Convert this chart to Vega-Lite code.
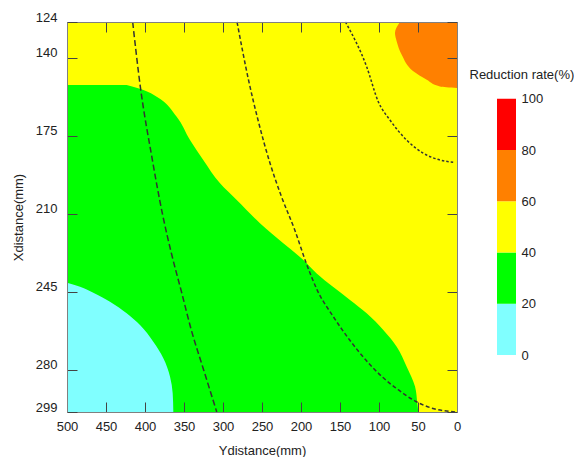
{
  "$schema": "https://vega.github.io/schema/vega-lite/v6.json",
  "padding": {"left": 12, "top": 11, "right": 0, "bottom": 0},
  "bounds": "flush",
  "spacing": 40,
  "config": {
    "font": "Liberation Sans",
    "view": {"stroke": null},
    "axis": {
      "labelFont": "Liberation Sans", "titleFont": "Liberation Sans",
      "labelFontSize": 13, "titleFontSize": 13, "titleFontWeight": "normal",
      "labelColor": "#222", "titleColor": "#222", "grid": false,
      "domain": true, "domainColor": "#808080", "domainWidth": 1,
      "tickColor": "#444", "tickWidth": 1
    }
  },
  "datasets": {
    "bg": [{"ya": 0, "yb": 500, "xa": 124, "xb": 299, "level": "40-60"}],
    "green": [
      {"xdist": 152.3, "ydist": 423.5}, {"xdist": 154.5, "ydist": 402}, {"xdist": 157.5, "ydist": 385},
      {"xdist": 166.5, "ydist": 359.4}, {"xdist": 176.9, "ydist": 342.3}, {"xdist": 185.9, "ydist": 325.3},
      {"xdist": 196.4, "ydist": 303.8}, {"xdist": 203.9, "ydist": 282.4}, {"xdist": 214.3, "ydist": 252.6},
      {"xdist": 223.3, "ydist": 222.7}, {"xdist": 230.8, "ydist": 197}, {"xdist": 236.8, "ydist": 179.9},
      {"xdist": 242.8, "ydist": 159}, {"xdist": 248.7, "ydist": 137.2}, {"xdist": 254.7, "ydist": 115.8},
      {"xdist": 262.2, "ydist": 94.5}, {"xdist": 269.7, "ydist": 77.3}, {"xdist": 278.7, "ydist": 64.5},
      {"xdist": 287.6, "ydist": 53.8}, {"xdist": 295.1, "ydist": 50.9}, {"xdist": 299, "ydist": 49.6}
    ],
    "cyan": [
      {"xdist": 241, "ydist": 500}, {"xdist": 242.8, "ydist": 483.3}, {"xdist": 245.5, "ydist": 466.3},
      {"xdist": 249.5, "ydist": 444.9}, {"xdist": 254.7, "ydist": 423.5}, {"xdist": 260, "ydist": 406.4},
      {"xdist": 267.5, "ydist": 389.4}, {"xdist": 274.9, "ydist": 376.5}, {"xdist": 283.2, "ydist": 367.9},
      {"xdist": 290.6, "ydist": 364.5}, {"xdist": 299, "ydist": 363.7}
    ],
    "orange": [
      {"xdist": 124, "ydist": 73.1}, {"xdist": 128.9, "ydist": 79.5}, {"xdist": 132.7, "ydist": 77.3},
      {"xdist": 138.7, "ydist": 70.9}, {"xdist": 146.1, "ydist": 56}, {"xdist": 149.9, "ydist": 38.8},
      {"xdist": 152.9, "ydist": 21.8}, {"xdist": 153.6, "ydist": 0}
    ],
    "curves": [
      {"curve": "c1", "xdist": 124, "ydist": 415.8}, {"curve": "c1", "xdist": 153, "ydist": 406},
      {"curve": "c1", "xdist": 184.4, "ydist": 391.3}, {"curve": "c1", "xdist": 210, "ydist": 377.7},
      {"curve": "c1", "xdist": 228, "ydist": 366}, {"curve": "c1", "xdist": 245, "ydist": 353.3},
      {"curve": "c1", "xdist": 262, "ydist": 340.8}, {"curve": "c1", "xdist": 280, "ydist": 324.9},
      {"curve": "c1", "xdist": 299, "ydist": 308},
      {"curve": "c2", "xdist": 124, "ydist": 282}, {"curve": "c2", "xdist": 150, "ydist": 267.3},
      {"curve": "c2", "xdist": 168, "ydist": 255.1}, {"curve": "c2", "xdist": 187.4, "ydist": 239.7},
      {"curve": "c2", "xdist": 202.4, "ydist": 225}, {"curve": "c2", "xdist": 217.3, "ydist": 208},
      {"curve": "c2", "xdist": 232.3, "ydist": 193.2}, {"curve": "c2", "xdist": 244.3, "ydist": 179.2},
      {"curve": "c2", "xdist": 256.2, "ydist": 158.6}, {"curve": "c2", "xdist": 266.7, "ydist": 137.6},
      {"curve": "c2", "xdist": 275.7, "ydist": 116.8}, {"curve": "c2", "xdist": 283.2, "ydist": 96},
      {"curve": "c2", "xdist": 289.1, "ydist": 75}, {"curve": "c2", "xdist": 294.4, "ydist": 52},
      {"curve": "c2", "xdist": 297.3, "ydist": 32}, {"curve": "c2", "xdist": 299, "ydist": 0.4},
      {"curve": "c3", "xdist": 124, "ydist": 143}, {"curve": "c3", "xdist": 144.1, "ydist": 115.8},
      {"curve": "c3", "xdist": 159.8, "ydist": 100.9}, {"curve": "c3", "xdist": 168, "ydist": 85.9},
      {"curve": "c3", "xdist": 177, "ydist": 64.5}, {"curve": "c3", "xdist": 182.9, "ydist": 43.2},
      {"curve": "c3", "xdist": 185.9, "ydist": 21.8}, {"curve": "c3", "xdist": 187, "ydist": 2.6}
    ],
    "legend": [
      {"lo": 0, "hi": 20, "level": "0-20"}, {"lo": 20, "hi": 40, "level": "20-40"},
      {"lo": 40, "hi": 60, "level": "40-60"}, {"lo": 60, "hi": 80, "level": "60-80"},
      {"lo": 80, "hi": 100, "level": "80-100"}
    ]
  },
  "resolve": {"scale": {"color": "shared", "x": "independent", "y": "independent"}},
  "hconcat": [
    {
      "width": 390,
      "height": 390,
      "resolve": {"axis": {"x": "independent", "y": "independent"}},
      "layer": [
        {
          "data": {"name": "bg"},
          "mark": "rect",
          "encoding": {
            "x": {"field": "ya", "type": "quantitative",
              "scale": {"domain": [0, 500], "reverse": true, "nice": false, "zero": false},
              "axis": {"orient": "bottom", "values": [0, 50, 100, 150, 200, 250, 300, 350, 400, 450, 500],
                "tickSize": -10, "labelPadding": 18, "labelFlush": false, "title": "Ydistance(mm)", "titlePadding": 11, "zindex": 2}},
            "x2": {"field": "yb"},
            "y": {"field": "xa", "type": "quantitative",
              "scale": {"domain": [124, 299], "reverse": true, "nice": false, "zero": false},
              "axis": {"orient": "left", "values": [124, 140, 175, 210, 245, 280, 299],
                "tickSize": -10, "labelPadding": 20, "labelOffset": -5, "title": "Xdistance(mm)", "titlePadding": 10, "zindex": 2}},
            "y2": {"field": "xb"},
            "color": {"field": "level", "type": "nominal", "legend": null,
              "scale": {"domain": ["0-20", "20-40", "40-60", "60-80", "80-100"],
                "range": ["#80FFFF", "#00FF00", "#FFFF00", "#FF8000", "#FF0000"]}}
          }
        },
        {
          "data": {"name": "green"},
          "mark": {"type": "area", "orient": "horizontal", "interpolate": "monotone"},
          "encoding": {
            "y": {"field": "xdist", "type": "quantitative", "axis": null},
            "x": {"field": "ydist", "type": "quantitative", "axis": null, "stack": null},
            "x2": {"datum": 500},
            "color": {"datum": "20-40", "type": "nominal", "legend": null}
          }
        },
        {
          "data": {"name": "cyan"},
          "mark": {"type": "area", "orient": "horizontal", "interpolate": "monotone"},
          "encoding": {
            "y": {"field": "xdist", "type": "quantitative", "axis": null},
            "x": {"field": "ydist", "type": "quantitative", "axis": null, "stack": null},
            "x2": {"datum": 500},
            "color": {"datum": "0-20", "type": "nominal", "legend": null}
          }
        },
        {
          "data": {"name": "orange"},
          "mark": {"type": "area", "orient": "horizontal", "interpolate": "monotone"},
          "encoding": {
            "y": {"field": "xdist", "type": "quantitative", "axis": null},
            "x": {"field": "ydist", "type": "quantitative", "axis": null, "stack": null},
            "x2": {"datum": 0},
            "color": {"datum": "60-80", "type": "nominal", "legend": null}
          }
        },
        {
          "data": {"name": "curves"},
          "mark": {"type": "line", "interpolate": "monotone", "strokeWidth": 1.5, "color": "#333"},
          "encoding": {
            "x": {"field": "ydist", "type": "quantitative",
              "axis": {"orient": "top", "values": [0, 50, 100, 150, 200, 250, 300, 350, 400, 450, 500],
                "tickSize": -10, "labels": false, "title": null, "zindex": 2}},
            "y": {"field": "xdist", "type": "quantitative",
              "axis": {"orient": "right", "values": [124, 140, 175, 210, 245, 280, 299],
                "tickSize": -10, "labels": false, "title": null, "zindex": 2}},
            "order": {"field": "xdist"},
            "strokeDash": {"field": "curve", "type": "nominal", "legend": null,
              "scale": {"domain": ["c1", "c2", "c3"], "range": [[6, 3], [4, 2.5], [2.5, 2]]}}
          }
        }
      ]
    },
    {
      "width": 19,
      "height": 333,
      "data": {"name": "legend"},
      "mark": "rect",
      "encoding": {
        "x": {"datum": 0, "type": "quantitative", "scale": {"domain": [0, 1], "nice": false, "zero": false}, "axis": null},
        "x2": {"datum": 1},
        "y": {"field": "lo", "type": "quantitative",
          "scale": {"domain": [0, 130], "nice": false, "zero": false},
          "axis": {"orient": "right", "values": [0, 20, 40, 60, 80, 100], "ticks": false, "domain": false,
            "labelPadding": 5, "title": "Reduction rate(%)", "titleAngle": 0, "titleAlign": "left",
            "titleBaseline": "middle", "titleX": -47, "titleY": 52}},
        "y2": {"field": "hi"},
        "color": {"field": "level", "type": "nominal", "legend": null}
      }
    }
  ]
}
